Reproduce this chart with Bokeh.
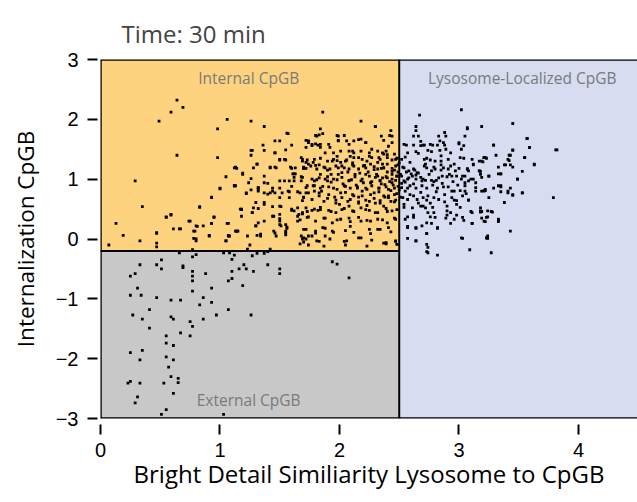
from bokeh.plotting import figure
from bokeh.models import Range1d, FixedTicker, Span, Label, ColumnDataSource
from bokeh.embed import file_html
from bokeh.resources import INLINE

# ---------------- data ----------------
title_text = "Time: 30 min"
x_label = "Bright Detail Similiarity Lysosome to CpGB"
y_label = "Internalization CpGB"
x_ticks = [0, 1, 2, 3, 4]
y_ticks = [-3, -2, -1, 0, 1, 2, 3]
x_min, x_max = 0.0, 4.494
y_min, y_max = -3.0, 3.0
gate_x = 2.5      # lysosome gate
gate_y = -0.2     # internal / external gate
region_names = ["Internal CpGB", "Lysosome-Localized CpGB", "External CpGB"]
region_label_x = [1.24, 3.53, 1.24]
region_label_y = [2.69, 2.69, -2.69]

# points in the Internal CpGB gate
internal_pts = [
    (0.64, 2.32), (0.59, 2.12), (0.69, 2.20), (0.49, 1.97), (0.64, 1.40), (0.29, 0.97),
    (0.35, 0.54), (0.13, 0.26), (0.19, 0.06), (0.07, -0.10), (0.33, -0.03), (0.47, 0.10),
    (0.47, -0.07), (0.47, -0.13), (0.55, 0.37), (0.59, 0.41), (0.61, 0.17), (0.66, 0.17),
    (0.75, 0.30), (0.83, 0.54), (0.80, 0.22), (0.86, 0.22), (0.93, 0.70), (0.93, 0.26),
    (0.95, 0.37), (0.91, 0.06), (0.79, 0.13), (0.80, 0.00), (0.98, 1.36), (0.98, 1.84),
    (1.06, 2.00), (1.05, 1.04), (1.00, 0.85), (1.12, 0.89), (1.12, 1.19), (1.14, 1.18),
    (1.19, 1.08), (1.06, 0.26), (1.05, -0.03), (1.07, 0.06), (1.14, 0.13), (1.18, 0.50),
    (1.18, 0.38), (1.22, 0.76), (1.26, 1.97), (1.37, 1.88), (1.26, 1.48), (1.26, 1.40),
    (1.26, 1.01), (1.28, 1.19), (1.31, 1.25), (1.32, 0.86), (1.32, 0.83), (1.37, 1.05),
    (1.37, 0.58), (1.28, 0.52), (1.27, 0.44), (1.23, 0.05), (1.25, -0.10), (1.32, 0.27),
    (1.30, 0.22), (1.31, 0.06), (1.34, 0.08), (1.36, 1.57), (1.46, 1.64), (1.50, 1.64),
    (1.56, 1.77), (1.55, 1.49), (1.46, 1.44), (1.50, 1.32), (1.55, 1.32), (1.42, 1.19),
    (1.47, 1.19), (1.60, 1.57), (1.60, 1.18), (1.62, 1.09), (1.54, 0.97), (1.58, 0.97),
    (1.62, 0.97), (1.44, 0.85), (1.44, 0.80), (1.40, 0.75), (1.50, 0.85), (1.50, 0.69),
    (1.58, 0.69), (1.44, 0.54), (1.50, 0.55), (1.50, 0.41), (1.44, 0.38), (1.50, 0.30),
    (1.50, 0.24), (1.55, 0.24), (1.56, 0.18), (1.55, 0.10), (1.55, 0.07), (1.46, 0.10),
    (1.47, 0.05), (1.60, 0.48), (1.65, 0.52), (1.65, 0.38), (1.69, 0.42), (1.68, 0.05),
    (1.70, -0.05), (1.72, 0.00), (1.68, 1.36), (1.70, 1.20), (1.70, 1.18), (1.74, 1.64),
    (1.73, 0.89), (1.70, 0.70), (1.60, 0.88), (1.57, 0.80),
    (1.57, 1.76), (1.81, 1.72), (1.74, 1.63), (1.77, 1.58), (1.82, 1.57), (1.27, 1.48),
    (1.37, 1.48), (1.46, 1.44), (1.50, 1.33), (1.54, 1.33), (1.69, 1.33), (1.72, 1.28),
    (1.74, 1.25), (1.78, 1.28), (1.80, 1.23), (1.70, 1.18), (1.72, 1.18), (1.59, 1.20),
    (1.63, 1.19), (1.42, 1.20), (1.46, 1.20), (1.31, 1.25), (1.13, 1.20), (1.19, 1.10),
    (1.61, 1.09), (1.63, 1.09), (1.62, 1.03), (1.68, 1.04), (1.68, 0.97), (1.79, 0.97),
    (1.78, 0.89), (1.24, 0.94), (1.37, 0.94), (1.40, 0.93), (1.50, 0.97), (1.12, 0.89),
    (1.22, 0.77), (1.26, 0.82), (1.32, 0.86), (1.32, 0.80), (1.37, 0.77), (1.42, 0.77),
    (1.46, 0.77), (1.52, 0.77), (1.58, 0.79), (1.65, 0.79), (1.67, 0.77), (1.72, 0.77),
    (1.74, 0.77), (1.79, 0.80), (1.69, 0.64), (1.37, 0.61), (1.30, 0.61), (1.51, 0.54),
    (1.17, 0.50), (1.18, 0.49), (1.27, 0.44), (1.32, 0.51), (1.60, 0.50), (1.62, 0.47),
    (1.66, 0.41), (1.69, 0.44), (1.73, 0.46), (1.77, 0.48), (1.82, 0.48), (1.74, 0.37),
    (1.45, 0.38), (1.37, 0.30), (1.50, 0.34), (1.51, 0.22), (1.30, 0.22), (1.56, 0.20),
    (1.55, 0.13), (1.65, 0.30), (1.67, 0.32), (1.70, 0.16), (1.74, 0.05), (1.77, 0.05),
    (1.80, 0.10), (1.14, 0.13), (1.34, 0.05), (1.45, 0.13), (1.69, 0.00), (1.23, -0.17),
    (1.42, -0.17), (1.67, -0.08),
    (1.13, 0.89), (1.00, 0.84), (0.93, 0.69), (0.83, 0.53), (0.59, 0.40), (0.55, 0.36),
    (0.74, 0.30), (0.95, 0.36), (0.67, 0.17), (0.81, 0.21), (0.93, 0.26), (1.07, 0.26),
    (0.47, 0.10), (0.78, 0.13), (0.78, 0.01), (0.80, -0.03), (0.91, 0.05), (1.07, 0.05),
    (1.08, 0.05), (1.13, 0.13), (1.15, 0.13), (1.05, -0.03), (0.77, -0.18),
    (1.86, 2.12), (2.18, 1.97), (2.30, 1.88), (1.84, 1.84), (1.86, 1.76), (2.43, 1.81),
    (2.42, 1.73), (1.80, 1.73), (1.98, 1.73), (1.99, 1.65), (2.04, 1.73), (1.72, 1.65),
    (1.74, 1.61), (1.80, 1.59), (2.06, 1.64), (2.12, 1.64), (2.18, 1.67), (2.22, 1.61),
    (2.35, 1.72), (2.37, 1.65), (2.44, 1.61), (1.72, 1.53), (1.77, 1.56), (1.84, 1.53),
    (1.91, 1.58), (1.92, 1.53), (1.95, 1.44), (2.01, 1.47), (2.08, 1.47), (2.12, 1.44),
    (2.18, 1.47), (2.27, 1.50), (2.32, 1.47), (2.36, 1.44), (2.39, 1.47), (2.46, 1.42),
    (1.69, 1.30), (1.73, 1.32), (1.79, 1.33), (1.84, 1.35), (1.90, 1.30), (1.95, 1.33),
    (2.01, 1.28), (2.06, 1.32), (2.12, 1.36), (2.19, 1.33), (2.23, 1.30), (2.27, 1.36),
    (2.34, 1.33), (2.37, 1.42), (2.40, 1.36), (2.44, 1.32), (2.48, 1.35), (1.70, 1.19),
    (1.76, 1.22), (1.81, 1.17), (1.87, 1.20), (1.92, 1.17), (1.97, 1.22), (2.04, 1.19),
    (2.08, 1.17), (2.12, 1.22), (2.16, 1.17), (2.22, 1.19), (2.26, 1.25), (2.32, 1.17),
    (2.37, 1.19), (2.40, 1.25), (2.47, 1.22), (1.69, 1.03), (1.77, 1.00), (1.83, 1.02),
    (1.90, 1.04), (1.95, 1.00), (2.02, 1.03), (2.08, 0.98), (2.13, 1.04), (2.19, 1.00),
    (2.25, 1.05), (2.30, 1.03), (2.34, 0.98), (2.39, 1.04), (2.44, 1.00), (2.48, 1.05),
    (1.72, 0.86), (1.79, 0.89), (1.84, 0.85), (1.91, 0.87), (1.98, 0.83), (2.04, 0.89),
    (2.09, 0.85), (2.15, 0.87), (2.22, 0.85), (2.27, 0.89), (2.33, 0.85), (2.39, 0.87),
    (2.46, 0.85), (1.70, 0.69), (1.77, 0.66), (1.83, 0.72), (1.90, 0.68), (1.97, 0.65),
    (2.02, 0.69), (2.09, 0.66), (2.16, 0.70), (2.22, 0.65), (2.29, 0.68), (2.34, 0.64),
    (2.41, 0.69), (2.47, 0.65), (1.72, 0.52), (1.79, 0.50), (1.84, 0.53), (1.91, 0.48),
    (1.97, 0.44), (2.04, 0.51), (2.11, 0.47), (2.18, 0.52), (2.25, 0.48), (2.32, 0.44),
    (2.39, 0.51), (2.44, 0.47), (1.73, 0.36), (1.80, 0.30), (1.87, 0.35), (1.94, 0.27),
    (2.01, 0.33), (2.09, 0.29), (2.16, 0.36), (2.23, 0.31), (2.32, 0.33), (2.40, 0.27),
    (2.47, 0.33), (1.72, 0.16), (1.80, 0.13), (1.88, 0.18), (1.95, 0.11), (2.05, 0.14),
    (2.12, 0.11), (2.26, 0.09), (2.34, 0.16), (2.43, 0.12), (1.70, 0.02), (1.81, -0.03),
    (1.92, 0.00), (2.06, -0.03), (2.18, 0.02), (2.27, -0.02), (2.39, -0.06), (2.47, -0.03),
    (1.74, -0.10), (1.87, -0.12), (2.05, -0.10), (2.23, -0.12), (2.39, -0.08), (2.48, -0.09),
    (2.30, 1.88), (2.44, 1.72), (1.99, 1.72), (1.99, 1.64), (1.83, 1.74), (2.08, 1.58),
    (2.16, 1.66), (2.22, 1.61), (2.41, 1.55), (1.88, 1.44), (1.84, 1.58), (2.11, 1.47),
    (1.98, 1.38), (1.94, 1.30), (2.05, 1.30), (2.16, 1.36), (2.25, 1.38), (2.33, 1.36),
    (2.40, 1.41), (2.47, 1.33), (2.49, 1.24), (1.83, 1.24), (1.88, 1.19), (1.99, 1.19),
    (2.11, 1.24), (2.20, 1.22), (2.29, 1.16), (2.37, 1.19), (2.44, 1.13), (1.84, 1.08),
    (1.93, 1.08), (2.02, 1.11), (2.13, 1.08), (2.22, 1.08), (2.32, 1.05), (2.40, 1.02),
    (2.48, 1.05), (1.81, 0.99), (1.90, 0.97), (1.98, 0.99), (2.08, 0.97), (2.18, 0.97),
    (2.26, 0.94), (2.34, 0.97), (2.44, 0.94), (1.86, 0.88), (1.95, 0.85), (2.05, 0.88),
    (2.15, 0.85), (2.23, 0.83), (2.33, 0.85), (2.41, 0.83), (2.49, 0.88), (1.83, 0.77),
    (1.91, 0.74), (2.01, 0.77), (2.11, 0.74), (2.19, 0.72), (2.29, 0.77), (2.37, 0.72),
    (2.46, 0.74), (1.87, 0.63), (1.97, 0.60), (2.07, 0.63), (2.16, 0.60), (2.25, 0.63),
    (2.34, 0.60), (2.43, 0.63), (1.84, 0.49), (1.93, 0.46), (2.02, 0.49), (2.12, 0.46),
    (2.22, 0.49), (2.30, 0.44), (2.40, 0.46), (2.48, 0.49), (1.88, 0.35), (1.98, 0.32),
    (2.08, 0.35), (2.18, 0.30), (2.26, 0.30), (2.36, 0.32), (2.46, 0.35), (1.86, 0.19),
    (1.94, 0.13), (2.09, 0.21), (2.25, 0.16), (2.32, 0.16), (2.41, 0.19), (1.88, 0.05),
    (2.04, -0.04), (2.16, 0.02), (2.37, -0.07), (2.47, -0.04), (1.83, -0.04),
    (1.93, 0.95), (1.99, 1.08), (2.03, 0.92), (2.07, 1.12), (2.10, 0.99), (2.14, 0.90),
    (2.17, 1.10), (2.20, 0.94), (2.24, 1.12), (2.27, 0.96), (2.31, 1.08), (2.35, 0.92),
    (2.05, 0.78), (2.12, 0.72), (2.19, 0.80), (2.26, 0.74), (2.33, 0.79), (2.38, 0.70),
    (1.96, 0.70), (2.00, 0.58), (2.08, 0.55), (2.16, 0.62), (2.23, 0.56), (2.30, 0.60),
    (2.37, 0.55), (1.88, 1.00), (1.85, 0.80), (1.90, 1.15), (2.02, 1.22), (2.11, 1.27),
    (2.21, 1.23), (2.29, 1.21), (2.36, 1.25), (2.44, 1.18), (2.09, 1.38), (2.25, 1.44),
    (2.32, 1.28), (1.98, 1.31), (2.49, 1.12), (2.47, 0.98), (2.46, 1.15), (2.45, 0.90),
    (2.48, 0.76), (2.44, 1.08), (2.42, 0.96), (2.43, 0.81), (2.46, 0.62), (2.40, 1.12),
    (2.38, 0.91), (2.36, 1.02), (2.41, 0.72), (2.35, 1.18),
]

# points in the External CpGB gate
external_pts = [
    (0.33, -0.43), (0.25, -0.62), (0.29, -0.58), (0.47, -0.43), (0.51, -0.35), (0.51, -0.50),
    (0.66, -0.23), (0.69, -0.45), (0.69, -0.48), (0.77, -0.30), (0.80, -0.26), (0.77, -0.54),
    (0.77, -0.62), (0.77, -0.70), (0.77, -0.87), (0.88, -0.58), (0.93, -0.82), (0.93, -1.06),
    (0.86, -0.98), (0.83, -1.10), (0.31, -0.82), (0.25, -0.94), (0.34, -0.94), (0.47, -0.98),
    (0.59, -1.02), (0.67, -1.02), (0.41, -1.18), (0.27, -1.27), (0.35, -1.34), (0.59, -1.30),
    (0.61, -1.34), (0.75, -1.38), (0.77, -1.46), (0.86, -1.34), (0.97, -1.27), (1.07, -1.18),
    (1.26, -1.27), (0.41, -1.49), (0.67, -1.57), (0.75, -1.62), (0.55, -1.62), (0.55, -1.74),
    (0.61, -1.78), (0.35, -1.86), (0.25, -1.90), (0.33, -2.02), (0.55, -1.97), (0.61, -2.02),
    (0.57, -2.14), (0.59, -2.30), (0.65, -2.33), (0.65, -2.40), (0.53, -2.41), (0.33, -2.41),
    (0.23, -2.41), (0.25, -2.38), (0.61, -2.58), (0.31, -2.64), (0.29, -2.74), (0.55, -2.85),
    (0.51, -2.93), (1.03, -2.93), (1.10, -0.34), (1.12, -0.27), (1.03, -0.23), (1.08, -0.23),
    (1.10, -0.54), (1.10, -0.66), (1.07, -0.70), (1.16, -0.50), (1.20, -0.43), (1.22, -0.50),
    (1.28, -0.54), (1.19, -0.78), (1.27, -0.28), (1.31, -0.24), (1.37, -0.24), (1.40, -0.21),
    (1.40, -0.43), (1.50, -0.50), (1.50, -0.58), (1.94, -0.38), (1.98, -0.42), (2.08, -0.65),
]

# points in the Lysosome-Localized CpGB gate
lysosome_pts = [
    (2.67, 2.07), (3.02, 2.16), (2.64, 1.88), (3.19, 1.88), (3.45, 1.93), (3.57, 1.68),
    (3.59, 1.53), (3.81, 1.49), (3.63, 1.25), (3.55, 1.36), (3.45, 1.48), (3.42, 1.40),
    (3.31, 1.40), (3.29, 1.57), (3.53, 1.13), (3.49, 1.00), (3.45, 0.73), (3.53, 0.77),
    (3.79, 0.69), (3.38, 0.61), (3.33, 0.31), (3.43, 0.13), (3.27, -0.23), (3.23, 0.02),
    (3.09, -0.18), (3.03, 0.01), (2.82, -0.27), (2.74, -0.23), (2.74, -0.14), (2.73, 0.09),
    (2.64, -0.03), (2.57, 0.01), (2.57, 0.21), (2.64, 0.19), (2.82, 0.18), (2.93, 0.26),
    (3.04, 0.31), (3.11, 0.26), (3.22, 0.29), (3.19, 0.46), (3.27, 0.46), (3.10, 0.46),
    (3.35, 0.79), (3.29, 0.85), (3.21, 0.80), (3.35, 0.87), (3.35, 1.09), (3.39, 1.24),
    (3.42, 1.31), (3.22, 1.36), (3.19, 1.30), (3.12, 1.24), (3.07, 1.17), (3.17, 1.14),
    (3.12, 1.00), (3.25, 1.05), (3.14, 0.86), (3.05, 0.80), (3.08, 0.65), (3.18, 0.52),
    (2.98, 0.64), (2.90, 0.55), (2.79, 0.44), (2.74, 0.44), (2.70, 0.55), (2.62, 0.40),
    (2.57, 0.37), (2.90, 0.40), (2.98, 0.40), (2.64, 1.81), (2.62, 1.72), (2.66, 1.72),
    (2.83, 1.72), (2.88, 1.78), (2.89, 1.72), (3.05, 1.72), (3.07, 1.86), (3.00, 1.59),
    (3.04, 1.56), (3.02, 1.50), (2.70, 1.57), (2.71, 1.57), (2.78, 1.57), (2.82, 1.57),
    (2.88, 1.57), (2.62, 1.57), (2.56, 1.57),
    (3.07, 1.84), (2.54, 1.58), (2.68, 1.63), (2.68, 1.56), (2.76, 1.58), (2.84, 1.64),
    (2.87, 1.61), (3.00, 1.61), (2.57, 1.44), (2.64, 1.46), (2.66, 1.43), (2.74, 1.48),
    (2.77, 1.46), (2.84, 1.48), (2.89, 1.50), (2.93, 1.44), (2.52, 1.33), (2.55, 1.37),
    (2.59, 1.28), (2.71, 1.33), (2.73, 1.35), (2.76, 1.32), (2.80, 1.30), (2.85, 1.39),
    (2.85, 1.30), (2.85, 1.24), (2.91, 1.33), (2.96, 1.25), (3.01, 1.36), (3.04, 1.35),
    (3.11, 1.33), (3.17, 1.30), (3.21, 1.36), (3.23, 1.35), (2.54, 1.19), (2.58, 1.14),
    (2.62, 1.17), (2.65, 1.11), (2.71, 1.22), (2.73, 1.19), (2.77, 1.14), (2.80, 1.17),
    (2.87, 1.19), (2.91, 1.17), (2.97, 1.14), (3.07, 1.17), (3.08, 1.14), (3.12, 1.25),
    (3.17, 1.14), (3.18, 1.08), (2.52, 1.05), (2.54, 0.97), (2.57, 1.00), (2.61, 1.05),
    (2.64, 1.00), (2.68, 1.03), (2.69, 0.97), (2.72, 0.98), (2.77, 0.98), (2.79, 0.96),
    (2.81, 0.98), (2.86, 1.05), (2.90, 1.04), (2.94, 1.05), (2.98, 1.05), (3.03, 1.05),
    (3.05, 1.05), (3.08, 0.97), (3.05, 0.94), (3.14, 0.94), (3.19, 1.03), (3.25, 1.05),
    (2.52, 0.86), (2.55, 0.80), (2.59, 0.89), (2.64, 0.85), (2.69, 0.89), (2.73, 0.85),
    (2.82, 0.85), (2.87, 0.87), (2.91, 0.87), (2.96, 0.80), (3.01, 0.81), (3.05, 0.89),
    (3.14, 0.80), (3.19, 0.80), (3.22, 0.83), (2.53, 0.69), (2.57, 0.66), (2.62, 0.72),
    (2.65, 0.66), (2.70, 0.69), (2.73, 0.65), (2.79, 0.69), (2.83, 0.66), (2.94, 0.69),
    (2.96, 0.65), (3.03, 0.72), (3.08, 0.65), (2.54, 0.53), (2.61, 0.52), (2.68, 0.55),
    (2.72, 0.52), (2.78, 0.53), (2.90, 0.47), (2.93, 0.44), (3.01, 0.53), (3.11, 0.44),
    (3.18, 0.47), (3.24, 0.47), (2.76, 0.37), (2.80, 0.36), (2.89, 0.35), (2.96, 0.33),
    (3.03, 0.36), (3.11, 0.26), (3.19, 0.35), (3.24, 0.37), (2.55, 0.33), (2.62, 0.36),
    (2.57, 0.19), (2.64, 0.18), (2.69, 0.22), (2.73, 0.27), (2.77, 0.26), (2.82, 0.19),
    (2.64, -0.03), (2.73, 0.09), (3.02, 0.02), (3.23, 0.02), (2.73, -0.09), (2.73, -0.21),
    (3.57, 1.68), (3.59, 1.53), (3.82, 1.49), (3.29, 1.57), (3.45, 1.49), (3.43, 1.40),
    (3.55, 1.36), (3.21, 1.36), (3.20, 1.29), (3.41, 1.33), (3.38, 1.24), (3.43, 1.24),
    (3.45, 1.20), (3.33, 1.20), (3.63, 1.24), (3.18, 1.13), (3.33, 1.09), (3.35, 1.09),
    (3.49, 1.00), (3.21, 0.81), (3.22, 0.81), (3.33, 0.89), (3.35, 0.89), (3.43, 0.85),
    (3.41, 0.80), (3.41, 0.77), (3.45, 0.74), (3.53, 0.77), (3.25, 0.69), (3.18, 0.45),
    (3.28, 0.45), (3.23, 0.36), (3.21, 0.30), (3.33, 0.33), (3.33, 0.29), (3.24, 0.05),
    (3.24, 0.01),
    (2.51, 1.08), (2.52, 0.93), (2.50, 0.82), (2.53, 1.20), (2.55, 0.95), (2.51, 0.70),
    (2.56, 1.12), (2.58, 1.02), (2.57, 0.85), (2.50, 1.27), (2.54, 0.58), (2.60, 1.09),
    (2.62, 0.92), (2.64, 1.07), (2.59, 0.74), (2.63, 1.15), (2.66, 1.10), (2.70, 1.00),
    (2.75, 1.08), (2.78, 0.90), (2.83, 1.02), (2.86, 0.93), (2.92, 1.08), (2.95, 0.96),
    (2.99, 0.90), (3.02, 1.00), (2.68, 0.78), (2.74, 0.72), (2.81, 0.79), (2.88, 0.74),
    (2.94, 0.80), (2.72, 1.25), (2.79, 1.20), (2.85, 1.15), (2.93, 1.22), (3.00, 1.18),
    (2.66, 0.60), (2.76, 0.60), (2.88, 0.62), (2.98, 0.58), (3.06, 0.76), (3.10, 1.00),
]

# ---------------- colours / fonts ----------------
c_internal = "#FDD37F"
c_external = "#C8C8C8"
c_lysosome = "#D8DCF0"
c_region_text = "#7A7A7A"
label_font = "Open Sans"
tick_font = "Liberation Sans"

p = figure(width=637, height=500, x_range=Range1d(x_min, x_max), y_range=Range1d(y_min, y_max),
           output_backend="svg", toolbar_location=None,
           min_border_left=100, min_border_right=0, min_border_top=59, min_border_bottom=82)
p.background_fill_color = "white"
p.border_fill_color = "white"
p.outline_line_color = None
p.grid.visible = False

# gate regions (extents come from the gate constants / ranges)
p.quad(left=[x_min], right=[gate_x], bottom=[gate_y], top=[y_max], fill_color=c_internal, line_color=None)
p.quad(left=[x_min], right=[gate_x], bottom=[y_min], top=[gate_y], fill_color=c_external, line_color=None)
p.quad(left=[gate_x], right=[x_max + 1], bottom=[y_min], top=[y_max], fill_color=c_lysosome, line_color=None)

# gate borders
p.segment(x0=[gate_x, x_min], y0=[y_min, gate_y], x1=[gate_x, gate_x], y1=[y_max, gate_y],
          line_color="black", line_width=2)
for loc, dim in [(y_max, "width"), (y_min, "width"), (x_min, "height")]:
    p.add_layout(Span(location=loc, dimension=dim, line_color="black", line_width=2.5))

# region labels
for name, lx, ly in zip(region_names, region_label_x, region_label_y):
    p.add_layout(Label(x=lx, y=ly, text=name, text_align="center", text_baseline="middle",
                       text_font=label_font, text_font_size="15.5px", text_color=c_region_text))

# points
all_pts = internal_pts + external_pts + lysosome_pts
src = ColumnDataSource(data=dict(x=[pt[0] for pt in all_pts], y=[pt[1] for pt in all_pts]))
p.scatter("x", "y", source=src, marker="square", size=2.8, fill_color="black", line_color=None)

# axes
p.xaxis.ticker = FixedTicker(ticks=x_ticks)
p.yaxis.ticker = FixedTicker(ticks=y_ticks)
for ax in (p.xaxis, p.yaxis):
    ax.axis_line_color = None
    ax.minor_tick_line_color = None
    ax.major_tick_line_color = "black"
    ax.major_tick_line_width = 2
    ax.major_label_text_font = tick_font
    ax.major_label_text_font_size = "20px"
    ax.major_label_text_color = "black"
    ax.axis_label_text_font = label_font
    ax.axis_label_text_font_style = "normal"
    ax.axis_label_text_color = "black"
p.xaxis.axis_label_text_font_size = "24px"
p.yaxis.axis_label_text_font_size = "22.5px"
p.xaxis.major_tick_in = -6
p.xaxis.major_tick_out = 16
p.yaxis.major_tick_in = -3
p.yaxis.major_tick_out = 13
p.xaxis.major_label_standoff = 8
p.yaxis.major_label_standoff = 9
p.xaxis.axis_label = x_label
p.yaxis.axis_label = y_label
p.xaxis.axis_label_standoff = -3
p.yaxis.axis_label_standoff = 12

p.title.text = title_text
p.title.text_font = label_font
p.title.text_font_size = "24px"
p.title.text_font_style = "normal"
p.title.align = "left"
p.title.offset = 21
p.title.standoff = 20

open("out.html", "w").write(file_html(p, INLINE))
